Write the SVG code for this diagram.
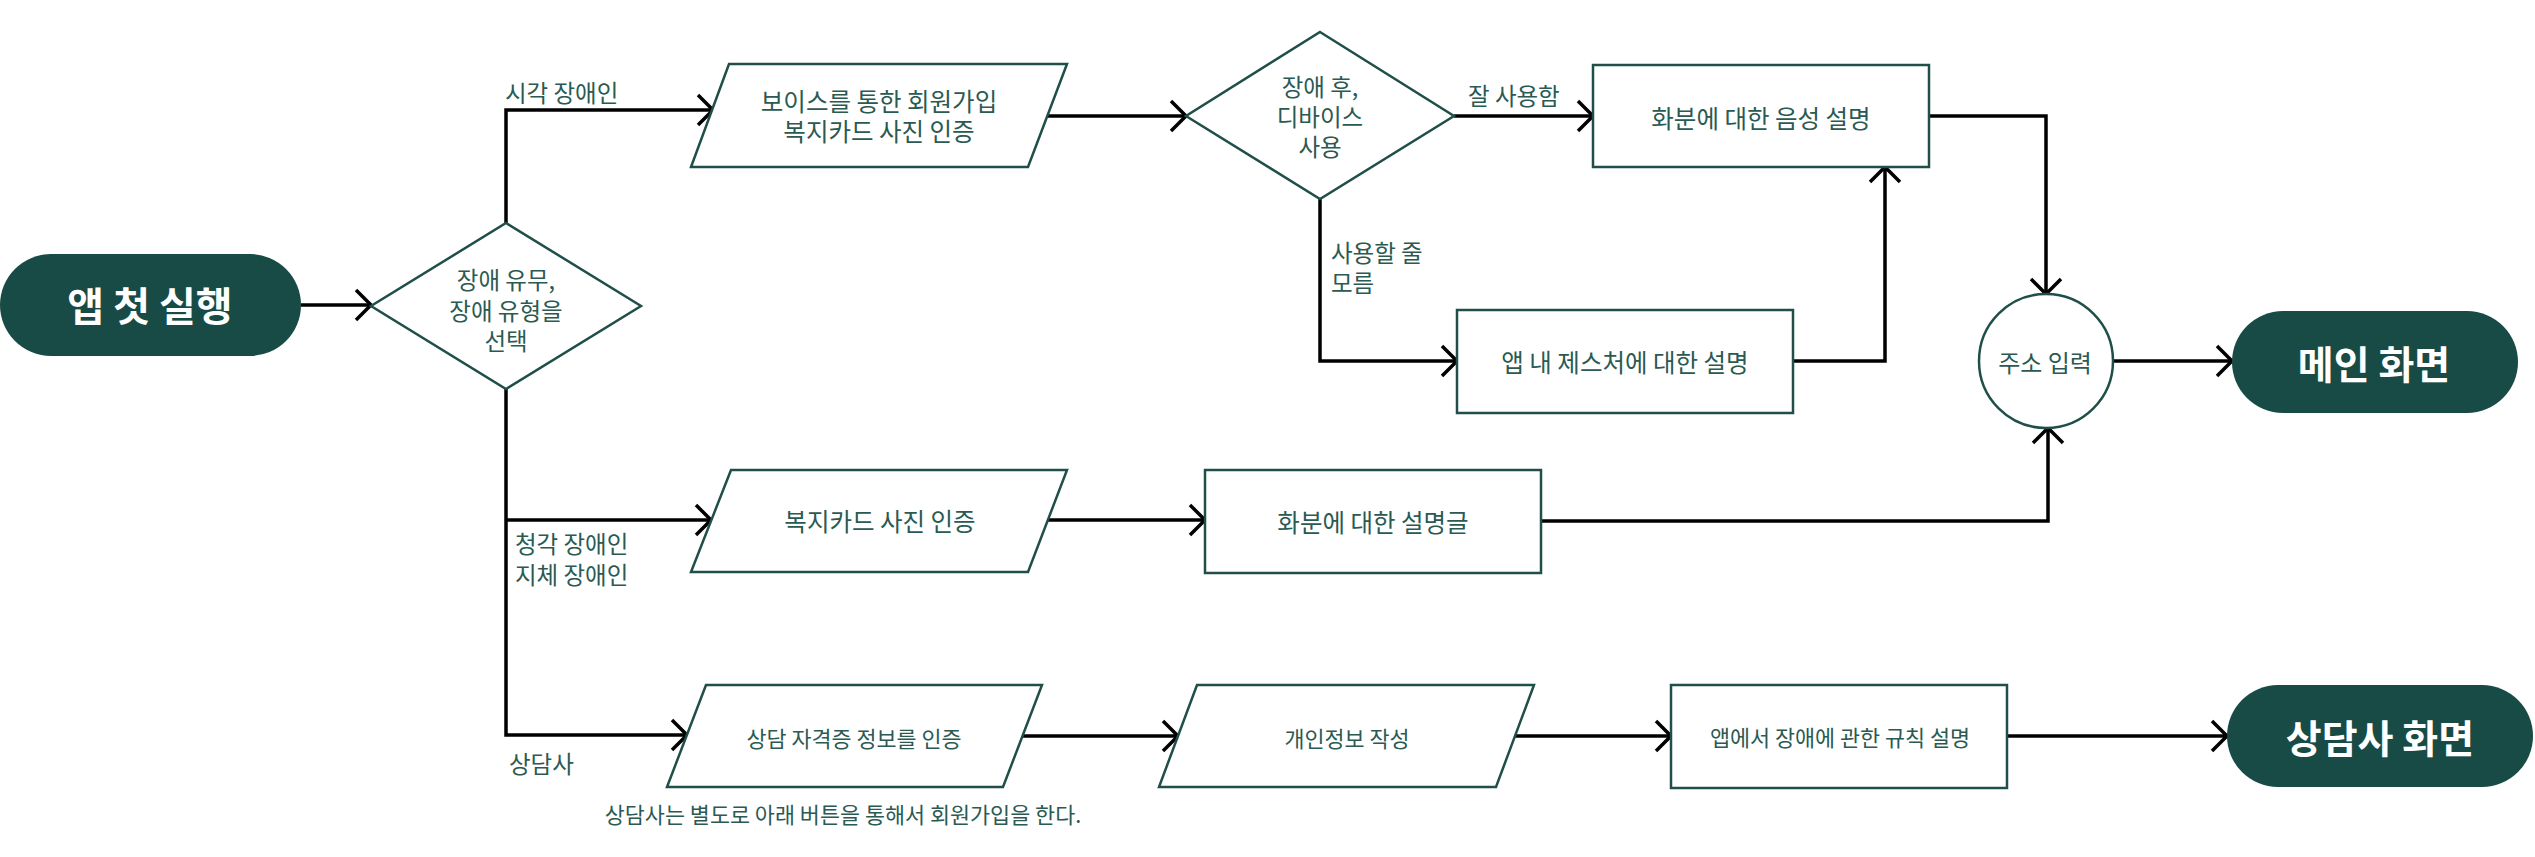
<svg xmlns="http://www.w3.org/2000/svg" width="2535" height="857" viewBox="0 0 2535 857">
<defs>
<style>
.node{fill:#ffffff;stroke:#1f4f48;stroke-width:2.5}
.term{fill:#184b45;stroke:none}
.t{font-family:"Noto Sans CJK KR","Noto Sans",sans-serif;font-size:24.5px;fill:#2a5a52;text-anchor:middle;dominant-baseline:central}
.s{font-size:21.8px}
.d{font-size:23.5px}
.lbl{font-family:"Noto Sans CJK KR","Noto Sans",sans-serif;font-size:23.5px;fill:#2a5a52;text-anchor:start;dominant-baseline:central}
.tt{font-family:"Noto Sans CJK KR","Noto Sans",sans-serif;font-size:40px;font-weight:700;fill:#ffffff;text-anchor:middle;dominant-baseline:central}
.c{fill:none;stroke:#000000;stroke-width:3.5;marker-end:url(#arr)}
</style>
<marker id="arr" markerUnits="userSpaceOnUse" markerWidth="22" markerHeight="36" refX="18" refY="18" orient="auto" viewBox="0 0 22 36">
<path d="M3,3 L18,18 L3,33" fill="none" stroke="#000000" stroke-width="3.5"/>
</marker>
</defs>

<g id="connectors">
<path class="c" d="M301,305 H371"/>
<path class="c" d="M506,223 V110 H713"/>
<path class="c" d="M1048,116 H1186"/>
<path class="c" d="M1454,116 H1593"/>
<path class="c" d="M1320,199 V361 H1457"/>
<path class="c" d="M1793,361 H1885 V167"/>
<path class="c" d="M1929,116 H2046 V294"/>
<path class="c" d="M2113,361 H2232"/>
<path class="c" d="M506,389 V735 H687"/>
<path class="c" d="M506,520 H711"/>
<path class="c" d="M1048,520 H1205"/>
<path class="c" d="M1541,521 H2048 V428"/>
<path class="c" d="M1023,736 H1178"/>
<path class="c" d="M1515,736 H1671"/>
<path class="c" d="M2007,736 H2227"/>
</g>

<g id="labels">
<text class="lbl" x="505" y="92">시각 장애인</text>
<text class="lbl" x="1468" y="95">잘 사용함</text>
<text class="lbl" x="1331" y="252">사용할 줄</text>
<text class="lbl" x="1331" y="282">모름</text>
<text class="lbl" x="515" y="543">청각 장애인</text>
<text class="lbl" x="515" y="574">지체 장애인</text>
<text class="lbl" x="509" y="763">상담사</text>
<text class="t s" x="843" y="813">상담사는 별도로 아래 버튼을 통해서 회원가입을 한다.</text>
</g>

<g id="start">
<rect class="term" x="0" y="254" width="301" height="102" rx="51" ry="51"/>
<text class="tt" x="150" y="304">앱 첫 실행</text>
</g>

<g id="select-disability">
<polygon class="node" points="506,223 641,306 506,389 371,306"/>
<text class="t d" x="506" y="279">장애 유무,</text>
<text class="t d" x="506" y="309.5">장애 유형을</text>
<text class="t d" x="506" y="340">선택</text>
</g>

<g id="voice-signup">
<polygon class="node" points="729,64 1067,64 1028,167 691,167"/>
<text class="t" x="879" y="100">보이스를 통한 회원가입</text>
<text class="t" x="879" y="130">복지카드 사진 인증</text>
</g>

<g id="device-use">
<polygon class="node" points="1320,32 1454,116 1320,199 1186,116"/>
<text class="t d" x="1320" y="86">장애 후,</text>
<text class="t d" x="1320" y="116">디바이스</text>
<text class="t d" x="1320" y="146">사용</text>
</g>

<g id="voice-desc">
<rect class="node" x="1593" y="65" width="336" height="102"/>
<text class="t" x="1761" y="117">화분에 대한 음성 설명</text>
</g>

<g id="gesture-desc">
<rect class="node" x="1457" y="310" width="336" height="103"/>
<text class="t" x="1625" y="361">앱 내 제스처에 대한 설명</text>
</g>

<g id="address">
<circle class="node" cx="2046" cy="361" r="67"/>
<text class="t" x="2045" y="361" style="font-size:24px">주소 입력</text>
</g>

<g id="main-screen">
<rect class="term" x="2232" y="311" width="286" height="102" rx="51" ry="51"/>
<text class="tt" x="2374" y="362" style="font-size:39px">메인 화면</text>
</g>

<g id="card-auth">
<polygon class="node" points="731,470 1067,470 1028,572 691,572"/>
<text class="t" x="880" y="520">복지카드 사진 인증</text>
</g>

<g id="text-desc">
<rect class="node" x="1205" y="470" width="336" height="103"/>
<text class="t" x="1373" y="521">화분에 대한 설명글</text>
</g>

<g id="counselor-auth">
<polygon class="node" points="706,685 1042,685 1003,787 667,787"/>
<text class="t s" x="854" y="737">상담 자격증 정보를 인증</text>
</g>

<g id="personal-info">
<polygon class="node" points="1197,685 1534,685 1496,787 1159,787"/>
<text class="t s" x="1347" y="737">개인정보 작성</text>
</g>

<g id="rules">
<rect class="node" x="1671" y="685" width="336" height="103"/>
<text class="t s" x="1840" y="736">앱에서 장애에 관한 규칙 설명</text>
</g>

<g id="counselor-screen">
<rect class="term" x="2227" y="685" width="306" height="102" rx="51" ry="51"/>
<text class="tt" x="2380" y="736" style="font-size:39px">상담사 화면</text>
</g>
</svg>
